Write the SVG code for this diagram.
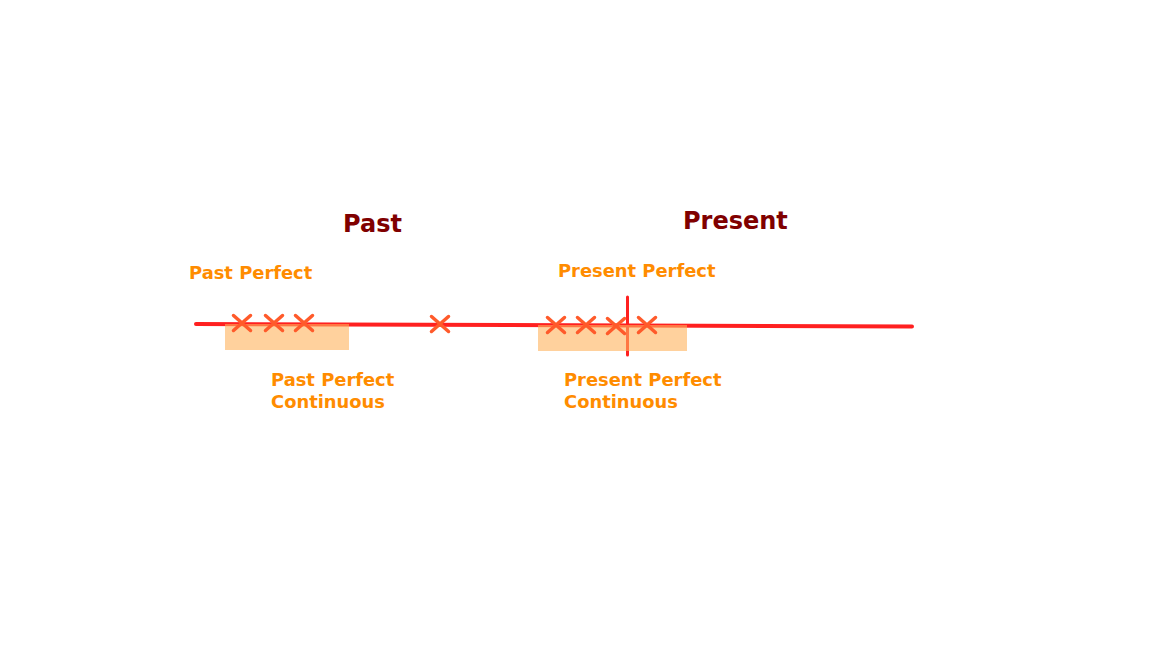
<svg xmlns="http://www.w3.org/2000/svg" width="1168" height="657" viewBox="0 0 1168 657">
<style>
.lbl{font-family:"DejaVu Sans",Verdana,sans-serif;font-weight:bold;font-size:17.9px;fill:#ff8c00}
.hdr{font-family:"DejaVu Sans",Verdana,sans-serif;font-weight:bold;font-size:24px;fill:#800000}
.x{stroke:#ff5a2a;stroke-width:3.5;stroke-linecap:round;fill:none}
.band{fill:#ffb35c;fill-opacity:0.6}
</style>
<defs>
<path id="cross" class="x" d="M-8.5,-7.5 L8.5,7.5 M-8.5,7.5 L8.5,-7.5"/>
</defs>
<rect width="1168" height="657" fill="#fff"/>
<g id="connectors">
<line x1="196" y1="324" x2="912" y2="326.5" stroke="#ff2020" stroke-width="4" stroke-linecap="round"/>
<line x1="627.5" y1="297" x2="627.5" y2="355" stroke="#ff2020" stroke-width="3" stroke-linecap="round"/>
</g>
<g id="band-past"><rect class="band" x="225" y="324" width="124" height="26"/></g>
<g id="band-present"><rect class="band" x="538" y="325" width="149" height="26"/></g>
<g id="crosses">
<use href="#cross" x="242" y="323"/>
<use href="#cross" x="274" y="323"/>
<use href="#cross" x="304" y="323"/>
<use href="#cross" x="440" y="324"/>
<use href="#cross" x="556" y="325"/>
<use href="#cross" x="586" y="325"/>
<use href="#cross" x="616" y="326"/>
<use href="#cross" x="647" y="325"/>
</g>
<g id="past"><text class="hdr" x="343" y="232">Past</text></g>
<g id="present"><text class="hdr" x="683" y="229">Present</text></g>
<g id="past-perfect"><text class="lbl" x="189" y="279">Past Perfect</text></g>
<g id="present-perfect"><text class="lbl" x="558" y="277">Present Perfect</text></g>
<g id="past-perfect-continuous"><text class="lbl" x="271" y="386">Past Perfect<tspan x="271" y="408">Continuous</tspan></text></g>
<g id="present-perfect-continuous"><text class="lbl" x="564" y="386">Present Perfect<tspan x="564" y="408">Continuous</tspan></text></g>
</svg>
